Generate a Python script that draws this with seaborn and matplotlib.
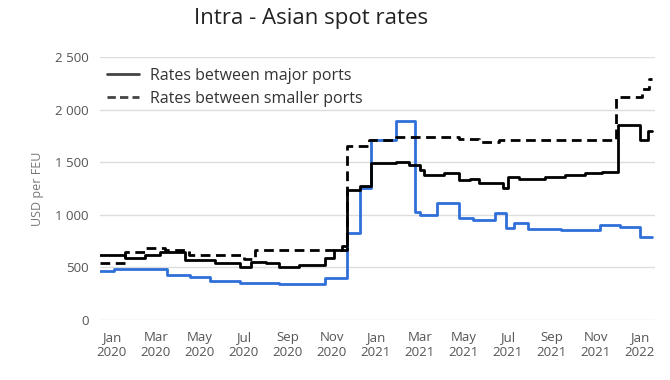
import matplotlib
matplotlib.use("Agg")
import matplotlib.pyplot as plt
from matplotlib.lines import Line2D
from matplotlib.ticker import FuncFormatter
import seaborn as sns

# --- DATA (month index: 0 = Jan 2020, step change points) ---
meses_azul = [-0.55, 0.1, 2.5, 3.55, 4.45, 5.8, 7.6, 9.7, 10.7, 11.3, 11.8, 12.9, 13.8, 14.0,
              14.8, 15.8, 16.4, 17.4, 17.9, 18.3, 18.9, 20.4, 22.2, 23.1, 24.0, 24.55]
valores_azul = [470, 485, 430, 410, 375, 355, 340, 400, 825, 1250, 1710, 1890, 1025, 1000,
                1110, 970, 950, 1020, 870, 920, 865, 855, 900, 880, 790, 790]

meses_major = [-0.55, 0.6, 1.5, 2.2, 3.3, 4.7, 5.8, 6.3, 7.0, 7.6, 8.5, 9.7, 10.1, 10.45,
               10.7, 11.3, 11.8, 12.9, 13.5, 14.0, 14.2, 15.1, 15.8, 16.3, 16.7, 17.8, 18.0,
               18.5, 19.7, 20.6, 21.5, 22.3, 23.0, 24.0, 24.35, 24.55]
valores_major = [615, 590, 620, 650, 570, 545, 500, 550, 545, 505, 525, 590, 665, 700,
                 1240, 1275, 1490, 1500, 1470, 1430, 1380, 1395, 1330, 1340, 1300, 1250, 1360,
                 1340, 1360, 1380, 1395, 1410, 1850, 1710, 1800, 1800]

meses_smaller = [-0.55, 0.6, 1.5, 2.4, 3.5, 6.0, 6.5, 10.7, 11.7, 12.9, 13.5, 15.8, 16.7,
                 17.6, 22.9, 24.1, 24.4, 24.55]
valores_smaller = [545, 650, 685, 665, 620, 580, 665, 1650, 1710, 1740, 1735, 1720, 1690,
                   1710, 2120, 2200, 2290, 2290]

tick_meses = list(range(0, 25, 2))
tick_rotulos = ["Jan\n2020", "Mar\n2020", "May\n2020", "Jul\n2020", "Sep\n2020", "Nov\n2020",
                "Jan\n2021", "Mar\n2021", "May\n2021", "Jul\n2021", "Sep\n2021", "Nov\n2021",
                "Jan\n2022"]

# --- PLOT ---
sns.set_theme(style="white")
plt.rcParams['font.family'] = ['Open Sans', 'DejaVu Sans']

fig = plt.figure(figsize=(6.7, 3.8), dpi=100)
ax = fig.add_axes([0.149, 0.158, 0.829, 0.692])

sns.lineplot(x=meses_azul, y=valores_azul, ax=ax, color='#2f6fd8', linewidth=2.0,
             drawstyle='steps-post')
sns.lineplot(x=meses_major, y=valores_major, ax=ax, color='black', linewidth=2.0,
             drawstyle='steps-post')
sns.lineplot(x=meses_smaller, y=valores_smaller, ax=ax, color='black', linewidth=2.0,
             drawstyle='steps-post', linestyle=(0, (3.5, 2)))

ax.set_xlim(-0.55, 24.7)
ax.set_ylim(0, 2500)
ax.set_yticks([0, 500, 1000, 1500, 2000, 2500])
ax.yaxis.set_major_formatter(FuncFormatter(lambda v, p: f"{int(v):,}".replace(",", " ")))
ax.set_xticks(tick_meses)
ax.set_xticklabels(tick_rotulos)
ax.grid(axis='y', color='#dddddd', linewidth=1)
ax.grid(axis='x', visible=False)
for s in ax.spines.values():
    s.set_visible(False)
ax.tick_params(axis='both', colors='#555555', labelsize=9.5, length=0, pad=8)
ax.set_ylabel("USD per FEU", color='#777777', fontsize=9, labelpad=8)
ax.set_xlabel("")

fig.suptitle("Intra - Asian spot rates", x=0.465, y=0.98, fontsize=16, color='#222222')

handles = [Line2D([], [], color='#444444', linewidth=2),
           Line2D([], [], color='#444444', linewidth=2, linestyle=(0, (3, 1.5)))]
ax.legend(handles, ["Rates between major ports", "Rates between smaller ports"],
          loc='upper left', bbox_to_anchor=(-0.005, 0.995), frameon=False, fontsize=11.5,
          labelcolor='#333333', handlelength=2.0, handletextpad=0.7, labelspacing=0.45,
          borderaxespad=0.2)

fig.savefig("out.png", dpi=100)
